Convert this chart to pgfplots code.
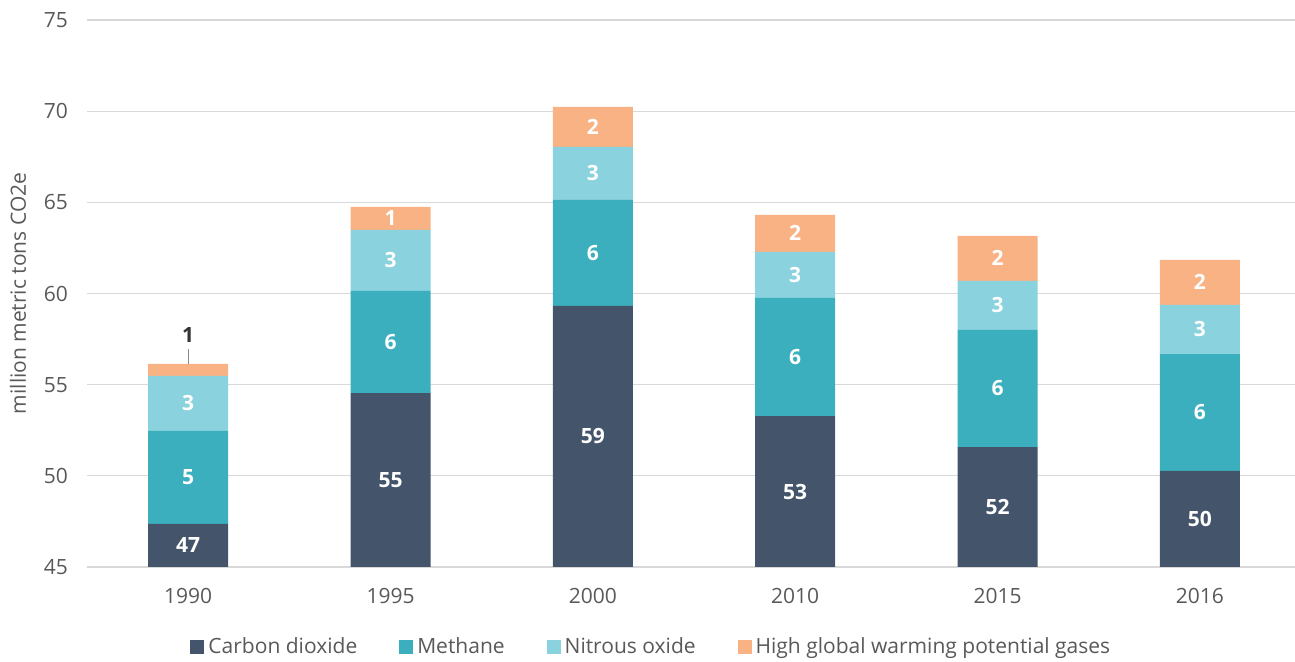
\documentclass[border=0pt]{standalone}
\usepackage{pgfplots}
\usepackage{pgfplotstable}
\pgfplotsset{compat=1.18}
\usepackage{fontspec}
\setmainfont{Open Sans}

\definecolor{co2}{HTML}{44546A}
\definecolor{ch4}{HTML}{3BAFBE}
\definecolor{n2o}{HTML}{8AD2DD}
\definecolor{hgwp}{HTML}{F8B284}
\definecolor{txt}{HTML}{595959}
\definecolor{grd}{HTML}{D9D9D9}

% year index, segment sizes (million metric tons CO2e)
\pgfplotstableread{
x  co2    ch4   n2o   hgwp
0  47.36  5.10  3.02  0.66
1  54.54  5.60  3.35  1.26
2  59.32  5.81  2.91  2.19
3  53.28  6.48  2.52  2.03
4  51.58  6.42  2.69  2.47
5  50.27  6.41  2.69  2.47
}\gases

% label positions (middle of each visible segment)
\pgfplotstableread{
x  y      lab
0  46.18  47
0  49.91  5
0  53.97  3
1  49.77  55
1  57.34  6
1  61.82  3
1  64.12  1
2  52.16  59
2  62.23  6
2  66.59  3
2  69.14  2
3  49.14  53
3  56.52  6
3  61.02  3
3  63.30  2
4  48.29  52
4  54.79  6
4  59.35  3
4  61.93  2
5  47.64  50
5  53.48  6
5  58.03  3
5  60.61  2
}\labels

\pgfplotsset{
  base/.style={
    scale only axis, width=604pt, height=273.5pt,
    xmin=-0.5, xmax=5.47, ymin=45, ymax=75,
    at={(0,0)}, anchor=south west,
  },
}

\begin{document}
\begin{tikzpicture}
\begin{axis}[
  base,
  ybar stacked, bar width=40pt,
  axis line style={draw=none},
  ymajorgrids, grid style={grd, line width=0.6pt},
  ytick={45,50,...,75},
  xtick={0,...,5},
  xticklabels={1990,1995,2000,2010,2015,2016},
  tick style={draw=none},
  /pgf/number format/assume math mode=true,
  tick label style={font=\fontsize{10.5}{12}\selectfont, text=txt},
  yticklabel style={xshift=-6pt},
  xticklabel style={yshift=-7pt},
  ylabel={million metric tons CO2e},
  every axis y label/.style={at={(axis description cs:-0.0571,0.5)}, rotate=90, anchor=center,
    font=\fontsize{10.5}{12}\selectfont, text=txt},
  legend columns=4,
  legend style={at={(axis description cs:0.468,-0.146)}, anchor=center, draw=none,
    font=\fontsize{10.5}{12}\selectfont, text=txt,
    /tikz/every even column/.append style={column sep=19pt}},
  legend image code/.code={\fill[#1] (0pt,-3.5pt) rectangle (7pt,3.5pt);},
]
\addplot[fill=co2, draw=none] table[x=x, y=co2] {\gases};
\addplot[fill=ch4, draw=none] table[x=x, y=ch4] {\gases};
\addplot[fill=n2o, draw=none] table[x=x, y=n2o] {\gases};
\addplot[fill=hgwp, draw=none] table[x=x, y=hgwp] {\gases};
\legend{Carbon dioxide, Methane, Nitrous oxide, High global warming potential gases}
\end{axis}

\begin{axis}[
  base, axis lines=none, clip=false,
]
\addplot[draw=none, mark=none, nodes near coords, point meta=explicit symbolic,
  every node near coord/.style={anchor=center, text=white,
    font=\bfseries\fontsize{10.5}{12}\selectfont}]
  table[x=x, y=y, meta=lab] {\labels};
\addplot[draw=txt!70, line width=0.5pt] coordinates {(0,56.14) (0,56.95)};
\addplot[draw=none, mark=none, nodes near coords, point meta=explicit symbolic,
  every node near coord/.style={anchor=center, text=black!80,
    font=\bfseries\fontsize{10.5}{12}\selectfont}]
  coordinates {(0,57.73) [1]};
\end{axis}
\pgfresetboundingbox
\path[use as bounding box] (-43.5pt,-47.5pt) rectangle (604pt,283.5pt);
\end{tikzpicture}
\end{document}
